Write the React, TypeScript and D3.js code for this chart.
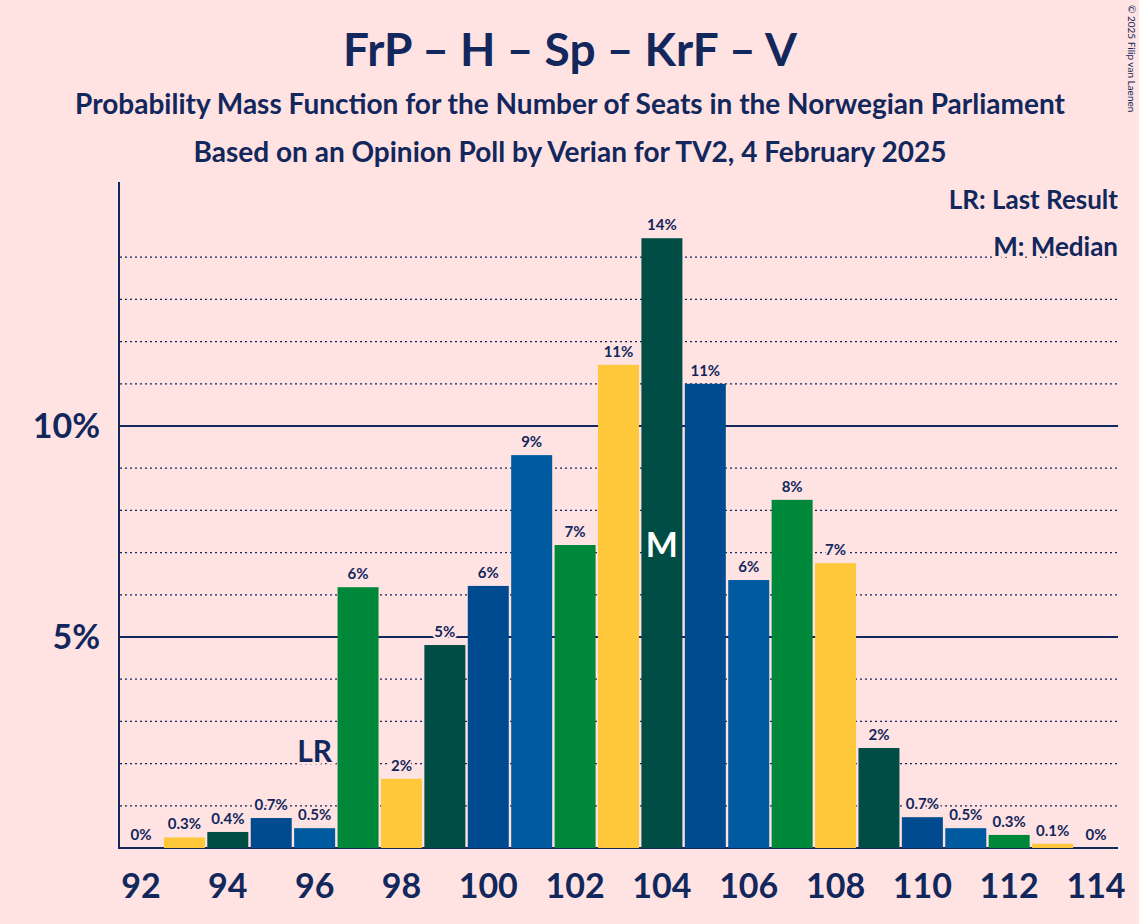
import React from "react";
import * as d3 from "d3";

const seats = [92,93,94,95,96,97,98,99,100,101,102,103,104,105,106,107,108,109,110,111,112,113,114];
const probs = [0,0.25,0.38,0.71,0.47,6.18,1.64,4.81,6.21,9.31,7.18,11.45,14.45,11.0,6.35,8.25,6.75,2.37,0.73,0.47,0.31,0.1,0];
const labels = ["0%","0.3%","0.4%","0.7%","0.5%","6%","2%","5%","6%","9%","7%","11%","14%","11%","6%","8%","7%","2%","0.7%","0.5%","0.3%","0.1%","0%"];
const palette = ["#004B8F","#005AA0","#00883A","#FFC83B","#004D45"];
const lastResult = 96;
const median = 104;
const xTicks = [92,94,96,98,100,102,104,106,108,110,112,114];

export default function App() {
  const W = 1139, H = 924;
  const x = d3.scaleLinear().domain([92, 114]).range([141, 1096]);
  const y = d3.scaleLinear().domain([0, 10]).range([848, 426]);
  const bw = 41;
  const navy = "#12275C";
  const colorFor = (s: number) => palette[(((s - 95) % 5) + 5) % 5];
  const grid = d3.range(1, 15);
  return (
    <svg width={W} height={H} style={{ position: "absolute", left: 0, top: 0, fontFamily: "Lato, sans-serif" }}>
      <rect width={W} height={H} fill="#FFE2E2" />
      <text x={570} y={66} textAnchor="middle" fontSize={46} fontWeight={700} fill={navy}>FrP – H – Sp – KrF – V</text>
      <text x={570} y={114} textAnchor="middle" fontSize={28} fontWeight={700} fill={navy}>Probability Mass Function for the Number of Seats in the Norwegian Parliament</text>
      <text x={570} y={162} textAnchor="middle" fontSize={28} fontWeight={700} fill={navy}>Based on an Opinion Poll by Verian for TV2, 4 February 2025</text>
      <text x={1128} y={5} fontSize={10} fill={navy} transform="rotate(90 1128 5)">© 2025 Filip van Laenen</text>
      {grid.map(g => (
        <line key={g} x1={120} x2={1118} y1={y(g)} y2={y(g)} stroke={navy}
          strokeWidth={g % 5 === 0 ? 2 : 1.2} strokeDasharray={g % 5 === 0 ? undefined : "2,3"} />
      ))}
      <line x1={119} x2={119} y1={182} y2={849} stroke={navy} strokeWidth={2} />
      <line x1={119} x2={1118} y1={848} y2={848} stroke={navy} strokeWidth={2} />
      <text x={100} y={y(10) + 12} textAnchor="end" fontSize={34} fontWeight={700} fill={navy}>10%</text>
      <text x={100} y={y(5) + 12} textAnchor="end" fontSize={34} fontWeight={700} fill={navy}>5%</text>
      {seats.map((s, i) => (
        <g key={s}>
          {probs[i] > 0 && <rect x={x(s) - bw / 2} y={y(probs[i])} width={bw} height={848 - y(probs[i])} fill={colorFor(s)} />}
          <text x={x(s)} y={y(probs[i]) - 8} textAnchor="middle" fontSize={15} fontWeight={700} fill={navy}
            stroke="#FFE2E2" strokeWidth={4} paintOrder="stroke">{labels[i]}</text>
        </g>
      ))}
      <text x={x(lastResult)} y={762} textAnchor="middle" fontSize={30} fontWeight={700} fill={navy}
        stroke="#FFE2E2" strokeWidth={4} paintOrder="stroke">LR</text>
      <text x={x(median)} y={557} textAnchor="middle" fontSize={34} fontWeight={700} fill="#fff">M</text>
      {xTicks.map(t => (
        <text key={t} x={x(t)} y={898} textAnchor="middle" fontSize={34} fontWeight={700} fill={navy}>{t}</text>
      ))}
      <text x={1118} y={209} textAnchor="end" fontSize={26} fontWeight={700} fill={navy} stroke="#FFE2E2" strokeWidth={6} paintOrder="stroke">LR: Last Result</text>
      <text x={1118} y={256} textAnchor="end" fontSize={26} fontWeight={700} fill={navy} stroke="#FFE2E2" strokeWidth={6} paintOrder="stroke">M: Median</text>
    </svg>
  );
}
